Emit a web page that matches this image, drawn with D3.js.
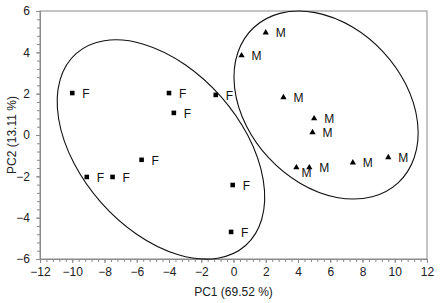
<!DOCTYPE html>
<html>
<head>
<meta charset="utf-8">
<script src="https://cdn.jsdelivr.net/npm/d3@7"></script>
<style>
  body { margin: 0; background: #fff; }
  text { font-family: "Liberation Sans", Arial, sans-serif; }
</style>
</head>
<body>
<div class="container"></div>
<script>
const w = 441;
const h = 303;

// female samples (squares)
const fX = [-10.0, -4.0, -3.7, -1.1, -5.7, -9.1, -7.5, -0.05, -0.15];
const fY = [2.03, 2.03, 1.07, 1.94, -1.2, -2.03, -2.03, -2.42, -4.69];
// male samples (triangles)
const mX = [2.0, 0.5, 3.1, 5.0, 4.9, 3.9, 4.7, 7.4, 9.6];
const mY = [4.98, 3.87, 1.84, 0.82, 0.15, -1.55, -1.55, -1.31, -1.06];

const xTicks = [-12, -10, -8, -6, -4, -2, 0, 2, 4, 6, 8, 10, 12];
const yTicks = [-6, -4, -2, 0, 2, 4, 6];
const xTitle = 'PC1 (69.52 %)';
const yTitle = 'PC2 (13.11 %)';

let svg = null;

window.onload = function () {
  svg = d3.select('.container').append('svg')
    .attr('width', w)
    .attr('height', h);
  draw();
};

function draw() {
  const x = d3.scaleLinear().domain([-12, 12]).range([40, 427]);
  const y = d3.scaleLinear().domain([-6, 6]).range([259, 11]);
  const axisColor = '#8a8a8a';

  // frame
  svg.append('rect')
    .attr('x', x(-12)).attr('y', y(6))
    .attr('width', x(12) - x(-12)).attr('height', y(-6) - y(6))
    .attr('fill', 'none').attr('stroke', axisColor);

  const minorX = d3.range(-12, 12.01, 0.4);
  const minorY = d3.range(-6, 6.01, 0.4);

  const gx = svg.append('g').attr('transform', `translate(0,${y(-6)})`);
  gx.call(d3.axisBottom(x).tickValues(minorX).tickSize(3).tickFormat(''));
  const gx2 = svg.append('g').attr('transform', `translate(0,${y(-6)})`);
  gx2.call(d3.axisBottom(x).tickValues(xTicks).tickSize(4).tickPadding(4)
    .tickFormat(d3.format('d')));

  const gy = svg.append('g').attr('transform', `translate(${x(-12)},0)`);
  gy.call(d3.axisLeft(y).tickValues(minorY).tickSize(3).tickFormat(''));
  const gy2 = svg.append('g').attr('transform', `translate(${x(-12)},0)`);
  gy2.call(d3.axisLeft(y).tickValues(yTicks).tickSize(4).tickPadding(6)
    .tickFormat(d3.format('d')));

  svg.selectAll('.domain').attr('stroke', axisColor);
  svg.selectAll('.tick line').attr('stroke', axisColor);
  svg.selectAll('.tick text')
    .attr('font-size', 12)
    .attr('font-family', '"Liberation Sans", Arial, sans-serif')
    .attr('fill', '#222');

  // axis titles
  svg.append('text')
    .attr('x', (x(-12) + x(12)) / 2).attr('y', 296)
    .attr('text-anchor', 'middle').attr('font-size', 12).attr('fill', '#222')
    .text(xTitle);
  svg.append('text')
    .attr('transform', `translate(16,${(y(6) + y(-6)) / 2}) rotate(-90)`)
    .attr('text-anchor', 'middle').attr('font-size', 12).attr('fill', '#222')
    .text(yTitle);

  // group ellipses
  const ellipses = [
    { cx: -4.5, cy: -0.7, rx: 128, ry: 80, rot: 48.6 },
    { cx: 5.74, cy: 1.45, rx: 106, ry: 78, rot: 47 }
  ];
  svg.selectAll('ellipse.grp')
    .data(ellipses)
    .enter()
    .append('ellipse')
    .attr('class', 'grp')
    .attr('cx', d => x(d.cx)).attr('cy', d => y(d.cy))
    .attr('rx', d => d.rx).attr('ry', d => d.ry)
    .attr('transform', d => `rotate(${d.rot},${x(d.cx)},${y(d.cy)})`)
    .attr('fill', 'none').attr('stroke', '#111').attr('stroke-width', 1.1);

  const fData = fX.map((v, i) => ({ x: v, y: fY[i] }));
  const mData = mX.map((v, i) => ({ x: v, y: mY[i] }));

  svg.selectAll('path.f')
    .data(fData)
    .enter()
    .append('path')
    .attr('class', 'f')
    .attr('d', d3.symbol(d3.symbolSquare, 21))
    .attr('transform', d => `translate(${x(d.x)},${y(d.y)})`)
    .attr('fill', '#000');

  svg.selectAll('path.m')
    .data(mData)
    .enter()
    .append('path')
    .attr('class', 'm')
    .attr('d', d3.symbol(d3.symbolTriangle, 17))
    .attr('transform', d => `translate(${x(d.x)},${y(d.y) + 0.5})`)
    .attr('fill', '#000');

  svg.selectAll('text.fl')
    .data(fData)
    .enter()
    .append('text')
    .attr('class', 'fl')
    .attr('x', d => x(d.x) + 10)
    .attr('y', d => y(d.y) + 5)
    .attr('font-size', 12).attr('fill', '#111')
    .text('F');

  // the label of the lower-left of the two overlapping males sits lower
  svg.selectAll('text.ml')
    .data(mData)
    .enter()
    .append('text')
    .attr('class', 'ml')
    .attr('x', (d, i) => x(d.x) + (i === 5 ? 5 : 10))
    .attr('y', (d, i) => y(d.y) + (i === 5 ? 10 : 5))
    .attr('font-size', 12).attr('fill', '#111')
    .text('M');
}
</script>
</body>
</html>
